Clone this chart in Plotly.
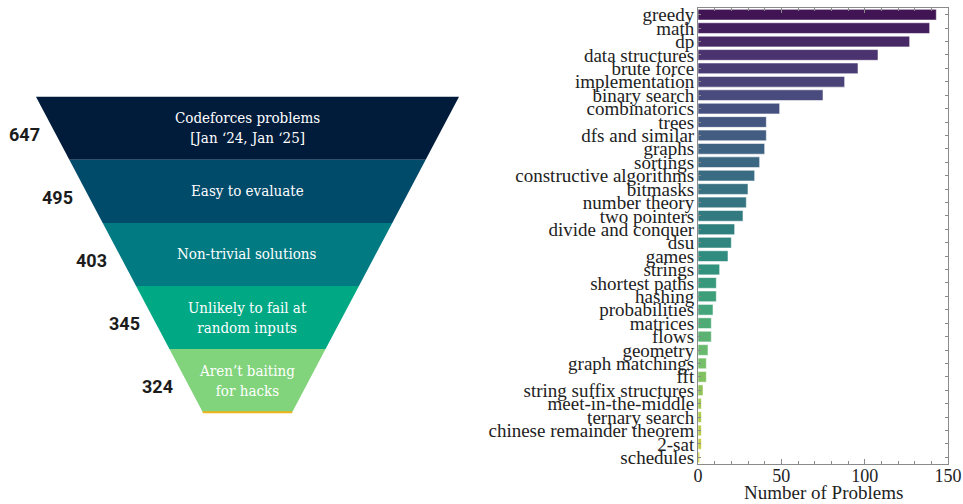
import colorsys
import plotly.graph_objects as go
from plotly.colors import sample_colorscale

# ---------------- data ----------------
stage_labels = [
    "Codeforces problems<br>[Jan ‘24, Jan ‘25]",
    "Easy to evaluate",
    "Non-trivial solutions",
    "Unlikely to fail at<br>random inputs",
    "Aren’t baiting<br>for hacks",
]
stage_counts = [647, 495, 403, 345, 324]
stage_colors = ["#011c3b", "#004a6a", "#017a82", "#00a884", "#81d37c"]

tags = [
    "greedy", "math", "dp", "data structures", "brute force", "implementation",
    "binary search", "combinatorics", "trees", "dfs and similar", "graphs",
    "sortings", "constructive algorithms", "bitmasks", "number theory",
    "two pointers", "divide and conquer", "dsu", "games", "strings",
    "shortest paths", "hashing", "probabilities", "matrices", "flows",
    "geometry", "graph matchings", "fft", "string suffix structures",
    "meet-in-the-middle", "ternary search", "chinese remainder theorem",
    "2-sat", "schedules",
]
tag_counts = [
    143, 139, 127, 108, 96, 88, 75, 49, 41, 41, 40, 37, 34, 30, 29, 27, 22,
    20, 18, 13, 11, 11, 9, 8, 8, 6, 5, 5, 3, 2, 2, 2, 2, 1,
]
x_ticks = [0, 50, 100, 150]
x_title = "Number of Problems"

# ---------------- styling helpers ----------------
W, H = 963, 504


def desaturate(rgb_str, prop=0.75):
    r, g, b = [float(v) / 255 for v in rgb_str[rgb_str.find("(") + 1:-1].split(",")]
    h, l, s = colorsys.rgb_to_hls(r, g, b)
    r, g, b = colorsys.hls_to_rgb(h, l, s * prop)
    return "rgb(%d,%d,%d)" % (round(r * 255), round(g * 255), round(b * 255))


n = len(tags)
pos = [(i + 1) / (n + 1) for i in range(n)]
bar_colors = [desaturate(c) for c in sample_colorscale("Viridis", pos)]

fig = go.Figure()

# ---------------- funnel (left) ----------------
TOP_HW = 3.352   # half width at top, in stage-height units
APEX = 6.34      # apex depth of the (virtual) triangle


def hw(y):
    return TOP_HW * (1 - y / APEX)


for i, (lab, cnt, col) in enumerate(zip(stage_labels, stage_counts, stage_colors)):
    y0, y1 = i, i + 1
    fig.add_trace(go.Scatter(
        x=[-hw(y0), hw(y0), hw(y1), -hw(y1), -hw(y0)],
        y=[y0, y0, y1, y1, y0],
        fill="toself", fillcolor=col, mode="lines",
        line=dict(width=0, color=col),
        xaxis="x2", yaxis="y2", hoverinfo="skip", showlegend=False,
    ))
    fig.add_annotation(
        x=0, y=i + 0.5, xref="x2", yref="y2", text=lab, showarrow=False,
        font=dict(family="DejaVu Serif Condensed", size=15, color="white"),
        align="center",
    )
    fig.add_annotation(
        x=-hw(i + 0.6), y=i + 0.6, xref="x2", yref="y2", text="<b>%d</b>" % cnt,
        showarrow=False, xanchor="right", xshift=-14,
        font=dict(family="Roboto", size=18, color="#1c1c1c"),
    )

nst = len(stage_labels)
fig.add_trace(go.Scatter(
    x=[-hw(nst), hw(nst)], y=[nst, nst], mode="lines",
    line=dict(width=2, color="#f0b21a"),
    xaxis="x2", yaxis="y2", hoverinfo="skip", showlegend=False,
))

# ---------------- bar chart (right) ----------------
fig.add_trace(go.Bar(
    y=tags, x=tag_counts, orientation="h", width=0.8,
    marker=dict(color=bar_colors, line=dict(color="rgba(255,255,255,0.55)", width=1)),
    xaxis="x", yaxis="y", showlegend=False,
))

axis_col = "#8a8a8a"
serif = "Liberation Serif"
x_dom = [698 / W, 948 / W]

fig.add_annotation(
    x=(x_dom[0] + x_dom[1]) / 2, y=1 - 492 / H, xref="paper", yref="paper",
    text=x_title, showarrow=False, xanchor="center", yanchor="middle",
    font=dict(family=serif, size=19, color="#222"),
)

fig.update_layout(
    width=W, height=H,
    margin=dict(l=0, r=0, t=0, b=0),
    paper_bgcolor="white", plot_bgcolor="white",
    showlegend=False,
    xaxis=dict(
        domain=x_dom, range=[0, 150],
        tickvals=x_ticks, ticks="inside", ticklen=5, tickcolor=axis_col,
        minor=dict(dtick=10, ticks="inside", ticklen=3, tickcolor=axis_col),
        showline=True, linecolor=axis_col, linewidth=1, mirror="ticks",
        showgrid=False, zeroline=False,
        tickfont=dict(family=serif, size=18, color="#222"),
        ticklabelstandoff=-5,
        automargin=False, anchor="y",
    ),
    yaxis=dict(
        domain=[1 - 464 / H, 1 - 8 / H],
        categoryorder="array", categoryarray=tags,
        range=[n - 0.5, -0.5],
        tickmode="array", tickvals=tags, ticktext=tags,
        ticks="inside", ticklen=3, tickcolor=axis_col,
        showline=True, linecolor=axis_col, linewidth=1, mirror="ticks",
        showgrid=False, zeroline=False,
        tickfont=dict(family=serif, size=19, color="#222"),
        ticklabelstandoff=-1,
        automargin=False, anchor="x",
    ),
    xaxis2=dict(
        domain=[0, 470 / W], range=[-3.922, 3.526], visible=False,
        anchor="y2",
    ),
    yaxis2=dict(
        domain=[0, 1], range=[6.455, -1.532], visible=False,
        anchor="x2",
    ),
)

fig.write_html(
    "out.html",
    config={"displayModeBar": False},
    post_script="document.body.style.margin='0';document.body.style.overflow='hidden';",
)
